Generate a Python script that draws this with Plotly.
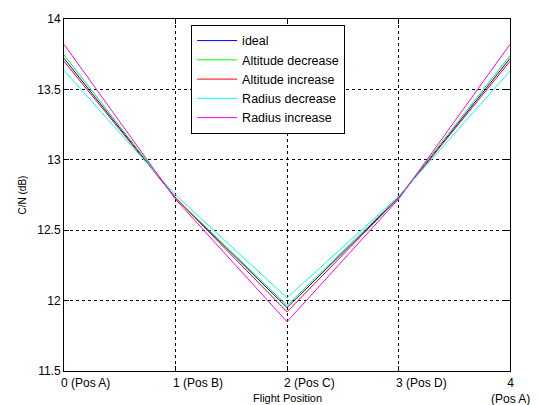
import plotly.graph_objects as go

positions = [0, 1, 2, 3, 4]
tick_labels = ["0 (Pos A)", "1 (Pos B)", "2 (Pos C)", "3 (Pos D)", "4<br>(Pos A)"]
ideal = [13.72, 12.73, 11.95, 12.73, 13.72]
alt_dec = [13.745, 12.73, 11.965, 12.735, 13.74]
alt_inc = [13.70, 12.73, 11.92, 12.73, 13.70]
rad_dec = [13.635, 12.75, 12.02, 12.74, 13.63]
rad_inc = [13.82, 12.72, 11.85, 12.72, 13.82]

series = [
    ("ideal", ideal, "#0000FF"),
    ("Altitude decrease", alt_dec, "#00FF00"),
    ("Altitude increase", alt_inc, "#FF0000"),
    ("Radius decrease", rad_dec, "#00FFFF"),
    ("Radius increase", rad_inc, "#FF00FF"),
]

fig = go.Figure()
for name, vals, col in series:
    fig.add_trace(go.Scatter(x=positions, y=vals, mode="lines", name=name,
                             line=dict(color=col, width=1)))

font = dict(family="Liberation Sans, Arial, sans-serif", size=12, color="black")

for p, lab in zip(positions, tick_labels):
    if p == 4:
        fig.add_annotation(x=p, y=0, xref="x", yref="paper", text=lab, showarrow=False,
                           xanchor="center", yanchor="top", yshift=-3, font=font)
    else:
        fig.add_annotation(x=p, y=0, xref="x", yref="paper", text=lab, showarrow=False,
                           xanchor="left", yanchor="top", xshift=-5, yshift=-3, font=font)

fig.add_annotation(x=0.5, y=0, xref="paper", yref="paper", text="Flight Position",
                   showarrow=False, xanchor="center", yanchor="top", yshift=-19,
                   font=dict(family="Liberation Sans, Arial, sans-serif", size=11, color="black"))

fig.update_layout(
    width=538, height=405,
    margin=dict(l=64, r=28, t=17, b=34),
    paper_bgcolor="white", plot_bgcolor="white",
    font=font,
    showlegend=True,
    legend=dict(x=0.285, y=0.983, xanchor="left", yanchor="top",
                bgcolor="white", bordercolor="black", borderwidth=1,
                font=dict(family="Liberation Sans, Arial, sans-serif", size=12.5, color="black"),
                tracegroupgap=0, itemwidth=40),
    xaxis=dict(range=[0, 4], tickvals=positions, showticklabels=False,
               showgrid=True, gridcolor="black", griddash="3px,3px", gridwidth=1,
               showline=True, linecolor="black", linewidth=1, mirror="ticks",
               ticks="inside", ticklen=5, tickcolor="black", zeroline=False),
    yaxis=dict(range=[11.5, 14], tickvals=[11.5, 12, 12.5, 13, 13.5, 14],
               ticktext=["11.5", "12", "12.5", "13", "13.5", "14"],
               showgrid=True, gridcolor="black", griddash="3px,3px", gridwidth=1,
               showline=True, linecolor="black", linewidth=1, mirror="ticks",
               ticks="inside", ticklen=5, tickcolor="black", zeroline=False,
               title=dict(text="C/N (dB)", standoff=8,
                          font=dict(family="Liberation Sans, Arial, sans-serif", size=10))),
)

fig.write_html("out.html")
